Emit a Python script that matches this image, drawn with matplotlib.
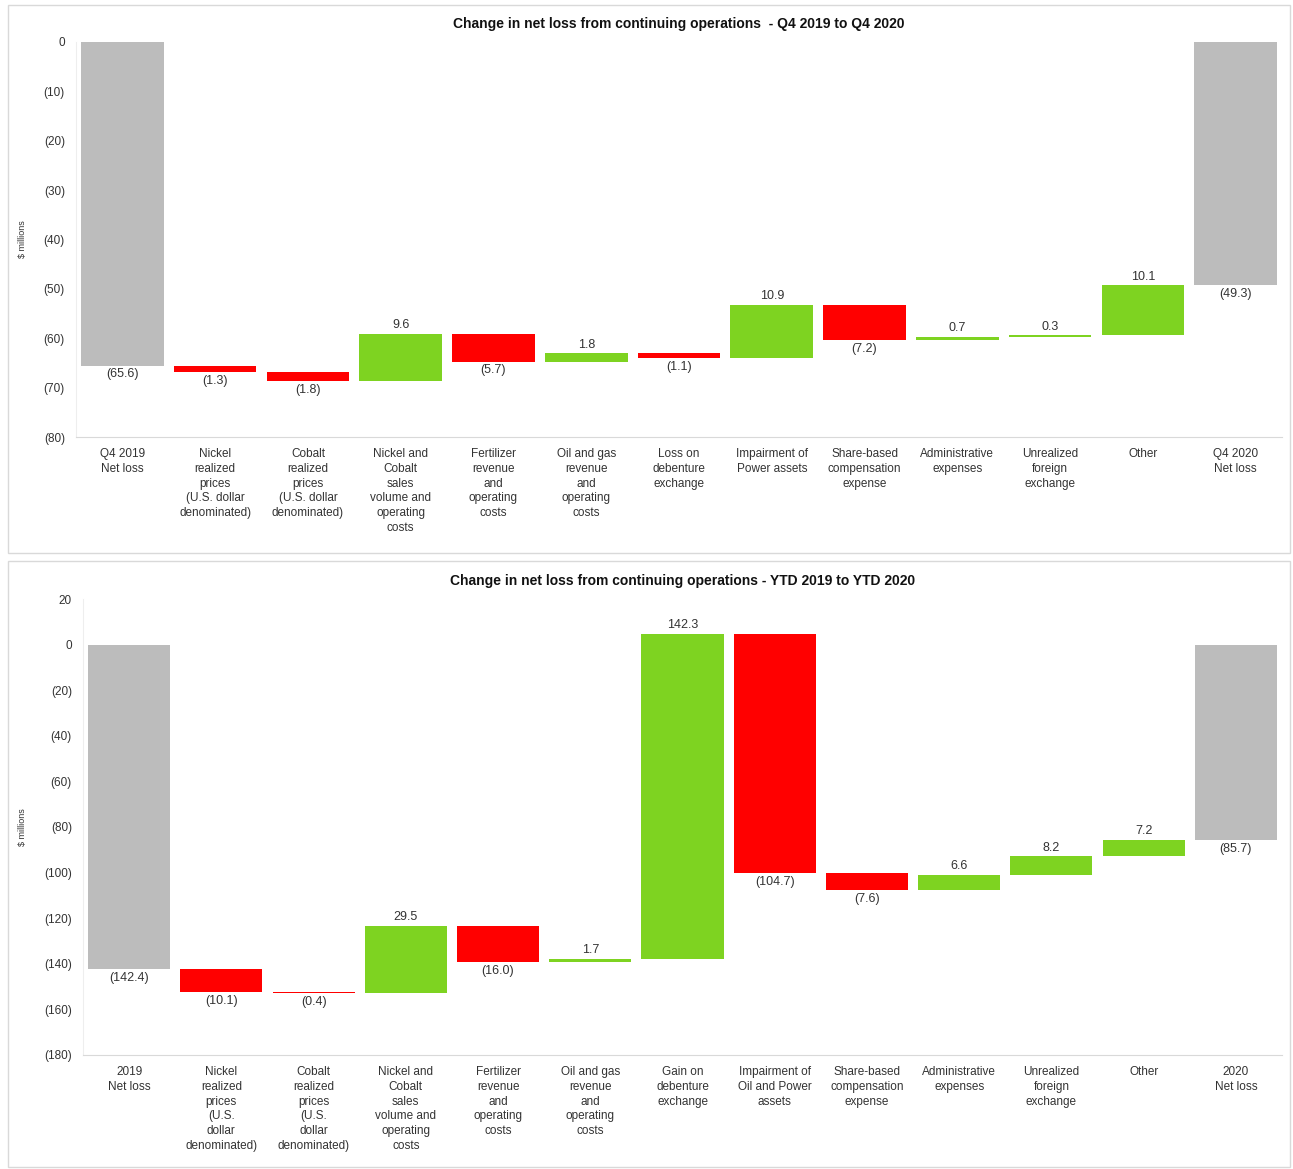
import matplotlib.pyplot as plt
from matplotlib.patches import Rectangle

plt.rcParams["font.family"] = ["Liberation Sans", "DejaVu Sans"]

GREEN = "#7ED321"
RED = "#FF0000"
GREY = "#BCBCBC"
TEXT = "#333333"

# Q4 chart
q4_labels = [
    "Q4 2019\nNet loss",
    "Nickel\nrealized\nprices\n(U.S. dollar\ndenominated)",
    "Cobalt\nrealized\nprices\n(U.S. dollar\ndenominated)",
    "Nickel and\nCobalt\nsales\nvolume and\noperating\ncosts",
    "Fertilizer\nrevenue\nand\noperating\ncosts",
    "Oil and gas\nrevenue\nand\noperating\ncosts",
    "Loss on\ndebenture\nexchange",
    "Impairment of\nPower assets",
    "Share-based\ncompensation\nexpense",
    "Administrative\nexpenses",
    "Unrealized\nforeign\nexchange",
    "Other",
    "Q4 2020\nNet loss",
]
q4_start = -65.6
q4_changes = [-1.3, -1.8, 9.6, -5.7, 1.8, -1.1, 10.9, -7.2, 0.7, 0.3, 10.1]
q4_end = -49.3
q4_ticks = [0, -10, -20, -30, -40, -50, -60, -70, -80]

# YTD chart
ytd_labels = [
    "2019\nNet loss",
    "Nickel\nrealized\nprices\n(U.S.\ndollar\ndenominated)",
    "Cobalt\nrealized\nprices\n(U.S.\ndollar\ndenominated)",
    "Nickel and\nCobalt\nsales\nvolume and\noperating\ncosts",
    "Fertilizer\nrevenue\nand\noperating\ncosts",
    "Oil and gas\nrevenue\nand\noperating\ncosts",
    "Gain on\ndebenture\nexchange",
    "Impairment of\nOil and Power\nassets",
    "Share-based\ncompensation\nexpense",
    "Administrative\nexpenses",
    "Unrealized\nforeign\nexchange",
    "Other",
    "2020\nNet loss",
]
ytd_start = -142.4
ytd_changes = [-10.1, -0.4, 29.5, -16.0, 1.7, 142.3, -104.7, -7.6, 6.6, 8.2, 7.2]
ytd_end = -85.7
ytd_ticks = [20, 0, -20, -40, -60, -80, -100, -120, -140, -160, -180]


def fmt(v):
    if v < 0:
        return "({:.1f})".format(-v)
    return "{:.1f}".format(v) if v != 0 else "0"


def tick_fmt(v):
    if v < 0:
        return "({:d})".format(int(-v))
    return "{:d}".format(int(v))


def waterfall(ax, labels, start, changes, end, ticks, title):
    span = max(ticks) - min(ticks)
    pad = span * 0.006
    w = 0.89
    ax.bar(0, start, width=w, color=GREY)
    ax.text(0, start - pad, fmt(start), ha="center", va="top", fontsize=9, color=TEXT)
    level = start
    for i, c in enumerate(changes, start=1):
        new = level + c
        color = GREEN if c > 0 else RED
        ax.bar(i, c, bottom=level, width=w, color=color)
        if c > 0:
            ax.text(i, new + pad, fmt(c), ha="center", va="bottom", fontsize=9, color=TEXT)
        else:
            ax.text(i, new - pad, fmt(c), ha="center", va="top", fontsize=9, color=TEXT)
        level = new
    n = len(labels) - 1
    ax.bar(n, end, width=w, color=GREY)
    ax.text(n, end - pad, fmt(end), ha="center", va="top", fontsize=9, color=TEXT)

    ax.set_xlim(-0.5, n + 0.5)
    ax.set_ylim(min(ticks), max(ticks))
    ax.set_yticks(ticks)
    ax.set_yticklabels([tick_fmt(t) for t in ticks], fontsize=8.5, color=TEXT)
    ax.set_xticks(range(len(labels)))
    ax.set_xticklabels(labels, fontsize=8.5, color=TEXT, linespacing=1.3, va="top")
    ax.tick_params(length=0, pad=8)
    for s in ["top", "right"]:
        ax.spines[s].set_visible(False)
    ax.spines["bottom"].set_color("#D9D9D9")
    ax.spines["left"].set_color("#EEEEEE")
    ax.set_ylabel("$ millions", fontsize=6.5, color=TEXT, labelpad=12)
    ax.set_title(title, fontsize=10, fontweight="bold", color="#111111", pad=10)


fig = plt.figure(figsize=(12.93, 11.69), dpi=100)
W, H = 1293, 1169
fig.patches.append(Rectangle((8 / W, 1 - 553 / H), 1282 / W, 548 / H,
                             transform=fig.transFigure, fill=False,
                             edgecolor="#D9D9D9", lw=1))
fig.patches.append(Rectangle((8 / W, 1 - 1167 / H), 1282 / W, 606 / H,
                             transform=fig.transFigure, fill=False,
                             edgecolor="#D9D9D9", lw=1))

ax1 = fig.add_axes([76 / W, 1 - 437 / H, 1206 / W, 395 / H])
waterfall(ax1, q4_labels, q4_start, q4_changes, q4_end, q4_ticks,
          "Change in net loss from continuing operations  - Q4 2019 to Q4 2020")

ax2 = fig.add_axes([83 / W, 1 - 1055 / H, 1199 / W, 456 / H])
waterfall(ax2, ytd_labels, ytd_start, ytd_changes, ytd_end, ytd_ticks,
          "Change in net loss from continuing operations - YTD 2019 to YTD 2020")

fig.savefig("out.png", dpi=100)
